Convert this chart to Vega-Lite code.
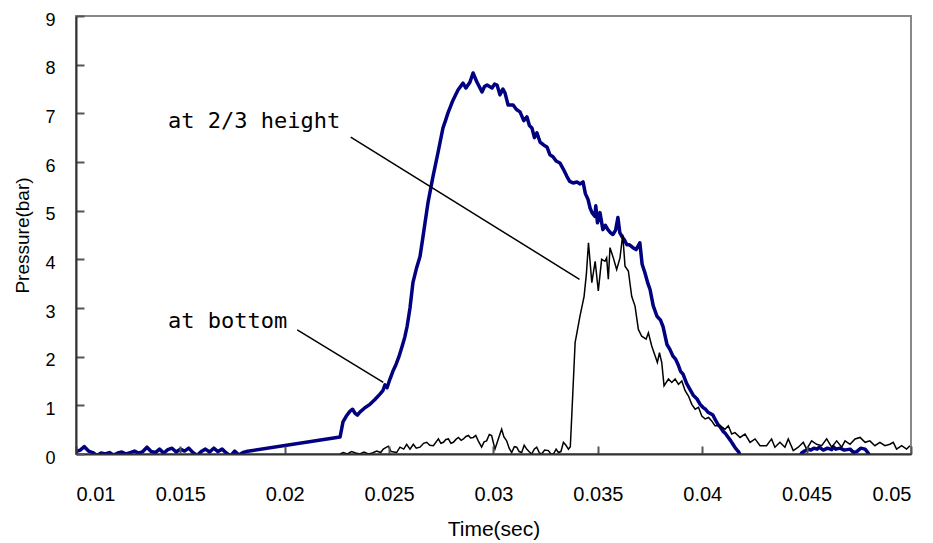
{
  "$schema": "https://vega.github.io/schema/vega-lite/v6.json",
  "autosize": "none",
  "width": 835,
  "height": 438,
  "padding": {"left": 76, "top": 16, "right": 22, "bottom": 89},
  "background": "white",
  "config": {
    "view": {"stroke": "#888888", "strokeWidth": 2},
    "axis": {"grid": false, "domainColor": "#333333", "domainWidth": 2, "ticks": true, "tickSize": -8, "tickColor": "#555555", "tickWidth": 2, "labelColor": "#000000", "titleColor": "#000000", "labelFont": "Liberation Sans", "titleFont": "Liberation Sans", "titleFontWeight": "normal"}
  },
  "datasets": {
    "series": [
      {"t": 0.0100, "p": 0.05, "s": "bottom"},
      {"t": 0.0102, "p": 0.08, "s": "bottom"},
      {"t": 0.0104, "p": 0.15, "s": "bottom"},
      {"t": 0.0106, "p": 0.06, "s": "bottom"},
      {"t": 0.0108, "p": 0.03, "s": "bottom"},
      {"t": 0.0110, "p": -0.03, "s": "bottom"},
      {"t": 0.0112, "p": 0.02, "s": "bottom"},
      {"t": 0.0114, "p": 0.0, "s": "bottom"},
      {"t": 0.0116, "p": 0.03, "s": "bottom"},
      {"t": 0.0118, "p": -0.02, "s": "bottom"},
      {"t": 0.0120, "p": 0.02, "s": "bottom"},
      {"t": 0.0122, "p": 0.04, "s": "bottom"},
      {"t": 0.0124, "p": 0.0, "s": "bottom"},
      {"t": 0.0126, "p": 0.03, "s": "bottom"},
      {"t": 0.0128, "p": 0.06, "s": "bottom"},
      {"t": 0.0130, "p": 0.02, "s": "bottom"},
      {"t": 0.0132, "p": 0.05, "s": "bottom"},
      {"t": 0.0134, "p": 0.14, "s": "bottom"},
      {"t": 0.0136, "p": 0.05, "s": "bottom"},
      {"t": 0.0138, "p": 0.03, "s": "bottom"},
      {"t": 0.0140, "p": 0.10, "s": "bottom"},
      {"t": 0.0142, "p": 0.02, "s": "bottom"},
      {"t": 0.0144, "p": 0.09, "s": "bottom"},
      {"t": 0.0146, "p": 0.12, "s": "bottom"},
      {"t": 0.0148, "p": 0.04, "s": "bottom"},
      {"t": 0.0150, "p": 0.10, "s": "bottom"},
      {"t": 0.0152, "p": 0.06, "s": "bottom"},
      {"t": 0.0154, "p": 0.12, "s": "bottom"},
      {"t": 0.0156, "p": 0.03, "s": "bottom"},
      {"t": 0.0158, "p": -0.03, "s": "bottom"},
      {"t": 0.0160, "p": 0.05, "s": "bottom"},
      {"t": 0.0162, "p": 0.10, "s": "bottom"},
      {"t": 0.0164, "p": 0.04, "s": "bottom"},
      {"t": 0.0166, "p": 0.12, "s": "bottom"},
      {"t": 0.0168, "p": 0.05, "s": "bottom"},
      {"t": 0.0170, "p": 0.10, "s": "bottom"},
      {"t": 0.0172, "p": 0.02, "s": "bottom"},
      {"t": 0.0174, "p": -0.04, "s": "bottom"},
      {"t": 0.0176, "p": 0.06, "s": "bottom"},
      {"t": 0.0178, "p": -0.02, "s": "bottom"},
      {"t": 0.0180, "p": 0.03, "s": "bottom"},
      {"t": 0.01815, "p": 0.05, "s": "bottom"},
      {"t": 0.02265, "p": 0.35, "s": "bottom"},
      {"t": 0.02279, "p": 0.66, "s": "bottom"},
      {"t": 0.02295, "p": 0.78, "s": "bottom"},
      {"t": 0.02313, "p": 0.88, "s": "bottom"},
      {"t": 0.02325, "p": 0.92, "s": "bottom"},
      {"t": 0.02336, "p": 0.84, "s": "bottom"},
      {"t": 0.02348, "p": 0.80, "s": "bottom"},
      {"t": 0.0236, "p": 0.86, "s": "bottom"},
      {"t": 0.02384, "p": 0.95, "s": "bottom"},
      {"t": 0.02408, "p": 1.02, "s": "bottom"},
      {"t": 0.02432, "p": 1.12, "s": "bottom"},
      {"t": 0.02456, "p": 1.23, "s": "bottom"},
      {"t": 0.0247, "p": 1.30, "s": "bottom"},
      {"t": 0.0248, "p": 1.42, "s": "bottom"},
      {"t": 0.0249, "p": 1.36, "s": "bottom"},
      {"t": 0.02504, "p": 1.54, "s": "bottom"},
      {"t": 0.02518, "p": 1.70, "s": "bottom"},
      {"t": 0.02533, "p": 1.84, "s": "bottom"},
      {"t": 0.02547, "p": 2.0, "s": "bottom"},
      {"t": 0.02562, "p": 2.21, "s": "bottom"},
      {"t": 0.02575, "p": 2.40, "s": "bottom"},
      {"t": 0.02586, "p": 2.62, "s": "bottom"},
      {"t": 0.026, "p": 3.0, "s": "bottom"},
      {"t": 0.02614, "p": 3.52, "s": "bottom"},
      {"t": 0.0263, "p": 3.80, "s": "bottom"},
      {"t": 0.02648, "p": 4.06, "s": "bottom"},
      {"t": 0.0266, "p": 4.40, "s": "bottom"},
      {"t": 0.02672, "p": 4.75, "s": "bottom"},
      {"t": 0.02686, "p": 5.16, "s": "bottom"},
      {"t": 0.0271, "p": 5.70, "s": "bottom"},
      {"t": 0.02734, "p": 6.19, "s": "bottom"},
      {"t": 0.02758, "p": 6.70, "s": "bottom"},
      {"t": 0.0277, "p": 6.85, "s": "bottom"},
      {"t": 0.02782, "p": 7.01, "s": "bottom"},
      {"t": 0.02806, "p": 7.27, "s": "bottom"},
      {"t": 0.0283, "p": 7.48, "s": "bottom"},
      {"t": 0.02854, "p": 7.62, "s": "bottom"},
      {"t": 0.02868, "p": 7.52, "s": "bottom"},
      {"t": 0.02887, "p": 7.64, "s": "bottom"},
      {"t": 0.02902, "p": 7.83, "s": "bottom"},
      {"t": 0.02921, "p": 7.64, "s": "bottom"},
      {"t": 0.02945, "p": 7.44, "s": "bottom"},
      {"t": 0.02957, "p": 7.55, "s": "bottom"},
      {"t": 0.02969, "p": 7.58, "s": "bottom"},
      {"t": 0.02993, "p": 7.52, "s": "bottom"},
      {"t": 0.03005, "p": 7.60, "s": "bottom"},
      {"t": 0.03017, "p": 7.58, "s": "bottom"},
      {"t": 0.03031, "p": 7.38, "s": "bottom"},
      {"t": 0.03045, "p": 7.50, "s": "bottom"},
      {"t": 0.03055, "p": 7.42, "s": "bottom"},
      {"t": 0.0307, "p": 7.17, "s": "bottom"},
      {"t": 0.03094, "p": 7.17, "s": "bottom"},
      {"t": 0.0311, "p": 7.08, "s": "bottom"},
      {"t": 0.03127, "p": 7.03, "s": "bottom"},
      {"t": 0.03145, "p": 6.85, "s": "bottom"},
      {"t": 0.0316, "p": 6.93, "s": "bottom"},
      {"t": 0.03172, "p": 6.75, "s": "bottom"},
      {"t": 0.03184, "p": 6.70, "s": "bottom"},
      {"t": 0.03196, "p": 6.50, "s": "bottom"},
      {"t": 0.03208, "p": 6.60, "s": "bottom"},
      {"t": 0.03223, "p": 6.41, "s": "bottom"},
      {"t": 0.0324, "p": 6.35, "s": "bottom"},
      {"t": 0.03256, "p": 6.31, "s": "bottom"},
      {"t": 0.0327, "p": 6.15, "s": "bottom"},
      {"t": 0.03285, "p": 6.11, "s": "bottom"},
      {"t": 0.033, "p": 6.02, "s": "bottom"},
      {"t": 0.03318, "p": 5.98, "s": "bottom"},
      {"t": 0.03335, "p": 5.85, "s": "bottom"},
      {"t": 0.03352, "p": 5.70, "s": "bottom"},
      {"t": 0.03365, "p": 5.60, "s": "bottom"},
      {"t": 0.03381, "p": 5.57, "s": "bottom"},
      {"t": 0.034, "p": 5.59, "s": "bottom"},
      {"t": 0.03415, "p": 5.55, "s": "bottom"},
      {"t": 0.03429, "p": 5.59, "s": "bottom"},
      {"t": 0.0344, "p": 5.35, "s": "bottom"},
      {"t": 0.03453, "p": 5.23, "s": "bottom"},
      {"t": 0.03463, "p": 5.05, "s": "bottom"},
      {"t": 0.03472, "p": 4.96, "s": "bottom"},
      {"t": 0.03486, "p": 4.88, "s": "bottom"},
      {"t": 0.0349, "p": 5.10, "s": "bottom"},
      {"t": 0.03498, "p": 4.75, "s": "bottom"},
      {"t": 0.0351, "p": 4.96, "s": "bottom"},
      {"t": 0.03524, "p": 4.61, "s": "bottom"},
      {"t": 0.03536, "p": 4.70, "s": "bottom"},
      {"t": 0.03548, "p": 4.61, "s": "bottom"},
      {"t": 0.0356, "p": 4.55, "s": "bottom"},
      {"t": 0.03572, "p": 4.51, "s": "bottom"},
      {"t": 0.03585, "p": 4.60, "s": "bottom"},
      {"t": 0.03596, "p": 4.86, "s": "bottom"},
      {"t": 0.03605, "p": 4.55, "s": "bottom"},
      {"t": 0.03615, "p": 4.47, "s": "bottom"},
      {"t": 0.03627, "p": 4.40, "s": "bottom"},
      {"t": 0.03639, "p": 4.30, "s": "bottom"},
      {"t": 0.0365, "p": 4.30, "s": "bottom"},
      {"t": 0.03668, "p": 4.24, "s": "bottom"},
      {"t": 0.03683, "p": 4.20, "s": "bottom"},
      {"t": 0.03701, "p": 4.34, "s": "bottom"},
      {"t": 0.03712, "p": 3.90, "s": "bottom"},
      {"t": 0.03725, "p": 3.73, "s": "bottom"},
      {"t": 0.0374, "p": 3.50, "s": "bottom"},
      {"t": 0.0375, "p": 3.38, "s": "bottom"},
      {"t": 0.03765, "p": 3.05, "s": "bottom"},
      {"t": 0.03783, "p": 2.83, "s": "bottom"},
      {"t": 0.038, "p": 2.75, "s": "bottom"},
      {"t": 0.03812, "p": 2.62, "s": "bottom"},
      {"t": 0.03831, "p": 2.25, "s": "bottom"},
      {"t": 0.03845, "p": 2.15, "s": "bottom"},
      {"t": 0.0386, "p": 2.01, "s": "bottom"},
      {"t": 0.03872, "p": 1.95, "s": "bottom"},
      {"t": 0.03884, "p": 1.84, "s": "bottom"},
      {"t": 0.03896, "p": 1.70, "s": "bottom"},
      {"t": 0.03908, "p": 1.64, "s": "bottom"},
      {"t": 0.03925, "p": 1.45, "s": "bottom"},
      {"t": 0.03941, "p": 1.33, "s": "bottom"},
      {"t": 0.03958, "p": 1.20, "s": "bottom"},
      {"t": 0.03975, "p": 1.13, "s": "bottom"},
      {"t": 0.0399, "p": 1.02, "s": "bottom"},
      {"t": 0.04003, "p": 0.96, "s": "bottom"},
      {"t": 0.04015, "p": 0.92, "s": "bottom"},
      {"t": 0.04027, "p": 0.86, "s": "bottom"},
      {"t": 0.04039, "p": 0.83, "s": "bottom"},
      {"t": 0.04051, "p": 0.80, "s": "bottom"},
      {"t": 0.04063, "p": 0.70, "s": "bottom"},
      {"t": 0.04075, "p": 0.61, "s": "bottom"},
      {"t": 0.04087, "p": 0.55, "s": "bottom"},
      {"t": 0.04099, "p": 0.47, "s": "bottom"},
      {"t": 0.04111, "p": 0.42, "s": "bottom"},
      {"t": 0.04123, "p": 0.35, "s": "bottom"},
      {"t": 0.04135, "p": 0.28, "s": "bottom"},
      {"t": 0.04147, "p": 0.20, "s": "bottom"},
      {"t": 0.04159, "p": 0.12, "s": "bottom"},
      {"t": 0.04175, "p": 0.04, "s": "bottom"},
      {"t": 0.0419, "p": -0.12, "s": "bottom"},
      {"t": 0.0422, "p": -0.20, "s": "bottom"},
      {"t": 0.0426, "p": -0.25, "s": "bottom"},
      {"t": 0.0430, "p": -0.20, "s": "bottom"},
      {"t": 0.0434, "p": -0.30, "s": "bottom"},
      {"t": 0.0438, "p": -0.20, "s": "bottom"},
      {"t": 0.0442, "p": -0.25, "s": "bottom"},
      {"t": 0.0446, "p": -0.10, "s": "bottom"},
      {"t": 0.04476, "p": 0.02, "s": "bottom"},
      {"t": 0.0449, "p": 0.06, "s": "bottom"},
      {"t": 0.04508, "p": 0.10, "s": "bottom"},
      {"t": 0.0452, "p": 0.08, "s": "bottom"},
      {"t": 0.04535, "p": 0.12, "s": "bottom"},
      {"t": 0.0455, "p": 0.10, "s": "bottom"},
      {"t": 0.0456, "p": 0.14, "s": "bottom"},
      {"t": 0.0458, "p": 0.08, "s": "bottom"},
      {"t": 0.046, "p": 0.12, "s": "bottom"},
      {"t": 0.0462, "p": 0.09, "s": "bottom"},
      {"t": 0.04628, "p": 0.15, "s": "bottom"},
      {"t": 0.0464, "p": 0.10, "s": "bottom"},
      {"t": 0.0466, "p": 0.12, "s": "bottom"},
      {"t": 0.0468, "p": 0.08, "s": "bottom"},
      {"t": 0.04708, "p": 0.10, "s": "bottom"},
      {"t": 0.04725, "p": 0.03, "s": "bottom"},
      {"t": 0.0474, "p": 0.05, "s": "bottom"},
      {"t": 0.0476, "p": 0.12, "s": "bottom"},
      {"t": 0.0478, "p": 0.10, "s": "bottom"},
      {"t": 0.04795, "p": 0.02, "s": "bottom"},
      {"t": 0.0481, "p": -0.10, "s": "bottom"},
      {"t": 0.0485, "p": -0.20, "s": "bottom"},
      {"t": 0.0490, "p": -0.25, "s": "bottom"},
      {"t": 0.0495, "p": -0.20, "s": "bottom"},
      {"t": 0.0500, "p": -0.25, "s": "bottom"},

      {"t": 0.02265, "p": 0.0, "s": "top"},
      {"t": 0.0228, "p": 0.03, "s": "top"},
      {"t": 0.0230, "p": 0.0, "s": "top"},
      {"t": 0.0232, "p": 0.05, "s": "top"},
      {"t": 0.0234, "p": 0.02, "s": "top"},
      {"t": 0.0236, "p": 0.0, "s": "top"},
      {"t": 0.0238, "p": 0.04, "s": "top"},
      {"t": 0.0240, "p": 0.0, "s": "top"},
      {"t": 0.0242, "p": 0.02, "s": "top"},
      {"t": 0.0244, "p": 0.06, "s": "top"},
      {"t": 0.0246, "p": 0.03, "s": "top"},
      {"t": 0.02472, "p": 0.10, "s": "top"},
      {"t": 0.02496, "p": 0.16, "s": "top"},
      {"t": 0.0251, "p": 0.05, "s": "top"},
      {"t": 0.02536, "p": 0.03, "s": "top"},
      {"t": 0.02552, "p": 0.14, "s": "top"},
      {"t": 0.0257, "p": 0.10, "s": "top"},
      {"t": 0.02584, "p": 0.20, "s": "top"},
      {"t": 0.026, "p": 0.10, "s": "top"},
      {"t": 0.02616, "p": 0.20, "s": "top"},
      {"t": 0.0263, "p": 0.12, "s": "top"},
      {"t": 0.02648, "p": 0.14, "s": "top"},
      {"t": 0.02665, "p": 0.22, "s": "top"},
      {"t": 0.0268, "p": 0.24, "s": "top"},
      {"t": 0.02695, "p": 0.18, "s": "top"},
      {"t": 0.02712, "p": 0.17, "s": "top"},
      {"t": 0.02736, "p": 0.31, "s": "top"},
      {"t": 0.02748, "p": 0.22, "s": "top"},
      {"t": 0.0276, "p": 0.24, "s": "top"},
      {"t": 0.02772, "p": 0.30, "s": "top"},
      {"t": 0.02784, "p": 0.31, "s": "top"},
      {"t": 0.02796, "p": 0.22, "s": "top"},
      {"t": 0.02808, "p": 0.24, "s": "top"},
      {"t": 0.0282, "p": 0.30, "s": "top"},
      {"t": 0.02832, "p": 0.34, "s": "top"},
      {"t": 0.02845, "p": 0.28, "s": "top"},
      {"t": 0.02856, "p": 0.31, "s": "top"},
      {"t": 0.02868, "p": 0.36, "s": "top"},
      {"t": 0.0288, "p": 0.38, "s": "top"},
      {"t": 0.0289, "p": 0.33, "s": "top"},
      {"t": 0.02903, "p": 0.34, "s": "top"},
      {"t": 0.02915, "p": 0.38, "s": "top"},
      {"t": 0.02927, "p": 0.27, "s": "top"},
      {"t": 0.02943, "p": 0.14, "s": "top"},
      {"t": 0.02955, "p": 0.25, "s": "top"},
      {"t": 0.02967, "p": 0.27, "s": "top"},
      {"t": 0.0298, "p": 0.40, "s": "top"},
      {"t": 0.02991, "p": 0.38, "s": "top"},
      {"t": 0.03007, "p": 0.10, "s": "top"},
      {"t": 0.03023, "p": 0.31, "s": "top"},
      {"t": 0.03039, "p": 0.51, "s": "top"},
      {"t": 0.0305, "p": 0.35, "s": "top"},
      {"t": 0.03063, "p": 0.27, "s": "top"},
      {"t": 0.03075, "p": 0.12, "s": "top"},
      {"t": 0.03087, "p": 0.03, "s": "top"},
      {"t": 0.031, "p": 0.15, "s": "top"},
      {"t": 0.03111, "p": 0.14, "s": "top"},
      {"t": 0.03123, "p": 0.05, "s": "top"},
      {"t": 0.03135, "p": 0.03, "s": "top"},
      {"t": 0.03147, "p": 0.18, "s": "top"},
      {"t": 0.03159, "p": 0.10, "s": "top"},
      {"t": 0.0317, "p": 0.05, "s": "top"},
      {"t": 0.03183, "p": 0.0, "s": "top"},
      {"t": 0.03195, "p": 0.10, "s": "top"},
      {"t": 0.03207, "p": 0.14, "s": "top"},
      {"t": 0.0322, "p": 0.02, "s": "top"},
      {"t": 0.03231, "p": 0.0, "s": "top"},
      {"t": 0.03245, "p": 0.08, "s": "top"},
      {"t": 0.03263, "p": 0.07, "s": "top"},
      {"t": 0.03275, "p": 0.0, "s": "top"},
      {"t": 0.03287, "p": 0.0, "s": "top"},
      {"t": 0.033, "p": 0.10, "s": "top"},
      {"t": 0.03311, "p": 0.03, "s": "top"},
      {"t": 0.03323, "p": 0.05, "s": "top"},
      {"t": 0.03335, "p": 0.24, "s": "top"},
      {"t": 0.03347, "p": 0.18, "s": "top"},
      {"t": 0.03359, "p": 0.10, "s": "top"},
      {"t": 0.03368, "p": 0.15, "s": "top"},
      {"t": 0.03375, "p": 0.79, "s": "top"},
      {"t": 0.03391, "p": 2.29, "s": "top"},
      {"t": 0.03414, "p": 2.83, "s": "top"},
      {"t": 0.03434, "p": 3.24, "s": "top"},
      {"t": 0.03445, "p": 3.70, "s": "top"},
      {"t": 0.03455, "p": 4.34, "s": "top"},
      {"t": 0.03471, "p": 3.52, "s": "top"},
      {"t": 0.03487, "p": 3.96, "s": "top"},
      {"t": 0.03502, "p": 3.35, "s": "top"},
      {"t": 0.03518, "p": 4.0, "s": "top"},
      {"t": 0.03534, "p": 3.96, "s": "top"},
      {"t": 0.03542, "p": 4.03, "s": "top"},
      {"t": 0.0355, "p": 3.59, "s": "top"},
      {"t": 0.03558, "p": 4.24, "s": "top"},
      {"t": 0.03574, "p": 4.03, "s": "top"},
      {"t": 0.0359, "p": 3.79, "s": "top"},
      {"t": 0.03606, "p": 4.03, "s": "top"},
      {"t": 0.03619, "p": 4.51, "s": "top"},
      {"t": 0.0363, "p": 3.86, "s": "top"},
      {"t": 0.03646, "p": 3.76, "s": "top"},
      {"t": 0.03662, "p": 3.24, "s": "top"},
      {"t": 0.03678, "p": 3.04, "s": "top"},
      {"t": 0.03694, "p": 2.56, "s": "top"},
      {"t": 0.0371, "p": 2.42, "s": "top"},
      {"t": 0.03731, "p": 2.36, "s": "top"},
      {"t": 0.03742, "p": 2.49, "s": "top"},
      {"t": 0.03758, "p": 2.22, "s": "top"},
      {"t": 0.03774, "p": 2.02, "s": "top"},
      {"t": 0.03785, "p": 1.88, "s": "top"},
      {"t": 0.03795, "p": 2.08, "s": "top"},
      {"t": 0.03806, "p": 1.88, "s": "top"},
      {"t": 0.03817, "p": 1.40, "s": "top"},
      {"t": 0.03838, "p": 1.54, "s": "top"},
      {"t": 0.03854, "p": 1.47, "s": "top"},
      {"t": 0.0387, "p": 1.54, "s": "top"},
      {"t": 0.03886, "p": 1.43, "s": "top"},
      {"t": 0.03902, "p": 1.50, "s": "top"},
      {"t": 0.03918, "p": 1.30, "s": "top"},
      {"t": 0.03934, "p": 1.19, "s": "top"},
      {"t": 0.0395, "p": 1.02, "s": "top"},
      {"t": 0.03966, "p": 0.92, "s": "top"},
      {"t": 0.03982, "p": 0.96, "s": "top"},
      {"t": 0.03998, "p": 0.78, "s": "top"},
      {"t": 0.04014, "p": 0.72, "s": "top"},
      {"t": 0.0403, "p": 0.75, "s": "top"},
      {"t": 0.04045, "p": 0.68, "s": "top"},
      {"t": 0.04061, "p": 0.58, "s": "top"},
      {"t": 0.04085, "p": 0.58, "s": "top"},
      {"t": 0.04109, "p": 0.51, "s": "top"},
      {"t": 0.04125, "p": 0.58, "s": "top"},
      {"t": 0.04141, "p": 0.41, "s": "top"},
      {"t": 0.04157, "p": 0.44, "s": "top"},
      {"t": 0.04181, "p": 0.34, "s": "top"},
      {"t": 0.04205, "p": 0.41, "s": "top"},
      {"t": 0.04229, "p": 0.24, "s": "top"},
      {"t": 0.04253, "p": 0.31, "s": "top"},
      {"t": 0.04277, "p": 0.17, "s": "top"},
      {"t": 0.04308, "p": 0.17, "s": "top"},
      {"t": 0.04332, "p": 0.31, "s": "top"},
      {"t": 0.04348, "p": 0.14, "s": "top"},
      {"t": 0.04372, "p": 0.24, "s": "top"},
      {"t": 0.04396, "p": 0.14, "s": "top"},
      {"t": 0.04412, "p": 0.31, "s": "top"},
      {"t": 0.04436, "p": 0.07, "s": "top"},
      {"t": 0.0446, "p": 0.14, "s": "top"},
      {"t": 0.04484, "p": 0.24, "s": "top"},
      {"t": 0.045, "p": 0.10, "s": "top"},
      {"t": 0.04524, "p": 0.27, "s": "top"},
      {"t": 0.04548, "p": 0.20, "s": "top"},
      {"t": 0.04572, "p": 0.17, "s": "top"},
      {"t": 0.04596, "p": 0.31, "s": "top"},
      {"t": 0.0462, "p": 0.14, "s": "top"},
      {"t": 0.04644, "p": 0.27, "s": "top"},
      {"t": 0.04668, "p": 0.14, "s": "top"},
      {"t": 0.04684, "p": 0.27, "s": "top"},
      {"t": 0.04708, "p": 0.20, "s": "top"},
      {"t": 0.04732, "p": 0.31, "s": "top"},
      {"t": 0.04756, "p": 0.34, "s": "top"},
      {"t": 0.0478, "p": 0.24, "s": "top"},
      {"t": 0.04803, "p": 0.27, "s": "top"},
      {"t": 0.04827, "p": 0.17, "s": "top"},
      {"t": 0.04851, "p": 0.24, "s": "top"},
      {"t": 0.04875, "p": 0.17, "s": "top"},
      {"t": 0.04899, "p": 0.20, "s": "top"},
      {"t": 0.04915, "p": 0.24, "s": "top"},
      {"t": 0.04931, "p": 0.10, "s": "top"},
      {"t": 0.04955, "p": 0.17, "s": "top"},
      {"t": 0.04979, "p": 0.10, "s": "top"},
      {"t": 0.04995, "p": 0.17, "s": "top"}
    ],
    "labels": [
      {"t": 0.01441, "p": 6.70, "label": "at 2/3 height"},
      {"t": 0.01441, "p": 2.58, "label": "at bottom"}
    ],
    "leaders": [
      {"t1": 0.02316, "p1": 6.51, "t2": 0.03412, "p2": 3.59},
      {"t1": 0.0206, "p1": 2.55, "t2": 0.02472, "p2": 1.47}
    ]
  },
  "layer": [
    {
      "data": {"name": "series"},
      "transform": [{"filter": "datum.s === 'bottom'"}],
      "mark": {"type": "line", "color": "#000080", "strokeWidth": 3.5, "clip": true, "strokeJoin": "round"},
      "encoding": {
        "x": {"field": "t", "type": "quantitative", "scale": {"domain": [0.01, 0.05], "nice": false, "zero": false},
          "axis": {"zindex": 1, "values": [0.01, 0.015, 0.02, 0.025, 0.03, 0.035, 0.04, 0.045, 0.05], "format": ".3~f", "labelPadding": 38, "labelFontSize": 20, "title": "Time(sec)", "titleFontSize": 21, "titlePadding": 14}},
        "y": {"field": "p", "type": "quantitative", "scale": {"domain": [0, 9], "nice": false},
          "axis": {"zindex": 1, "values": [0, 1, 2, 3, 4, 5, 6, 7, 8, 9], "labelPadding": 29, "labelFontSize": 18, "labelOffset": 4, "title": "Pressure(bar)", "titleFontSize": 19, "titlePadding": 12}}
      }
    },
    {
      "data": {"name": "series"},
      "transform": [{"filter": "datum.s === 'top'"}],
      "mark": {"type": "line", "color": "#000000", "strokeWidth": 1.5, "clip": true},
      "encoding": {
        "x": {"field": "t", "type": "quantitative"},
        "y": {"field": "p", "type": "quantitative"}
      }
    },
    {
      "data": {"name": "leaders"},
      "mark": {"type": "rule", "color": "#000000", "strokeWidth": 1.5},
      "encoding": {
        "x": {"field": "t1", "type": "quantitative"},
        "y": {"field": "p1", "type": "quantitative"},
        "x2": {"field": "t2"},
        "y2": {"field": "p2"}
      }
    },
    {
      "data": {"name": "labels"},
      "mark": {"type": "text", "align": "left", "baseline": "alphabetic", "font": "DejaVu Sans Mono", "fontSize": 22, "color": "#000000"},
      "encoding": {
        "x": {"field": "t", "type": "quantitative"},
        "y": {"field": "p", "type": "quantitative"},
        "text": {"field": "label"}
      }
    }
  ]
}
